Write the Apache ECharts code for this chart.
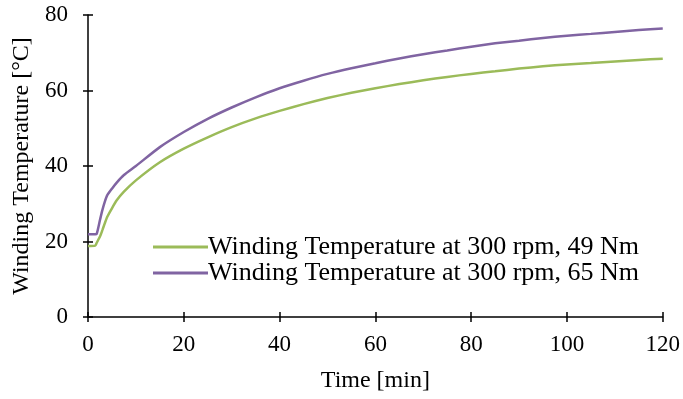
<!DOCTYPE html>
<html><head><meta charset="utf-8">
<script src="https://cdn.jsdelivr.net/npm/echarts@6/dist/echarts.min.js"></script>
<style>html,body{margin:0;padding:0;background:#fff}#c{width:683px;height:399px}</style>
</head><body><div id="c"></div>
<script>
const timeMin  = [0, 1.5, 1.8, 2.5, 3, 3.5, 4, 5, 6, 7.5, 10, 15, 20, 25, 30, 35, 40, 45, 50, 55, 60, 65, 70, 75, 80, 85, 90, 95, 100, 105, 110, 115, 120];
const temp49Nm = [18.8, 18.9, 19.6, 21.3, 23.0, 24.8, 26.5, 28.8, 30.9, 33.2, 36.2, 41.0, 44.6, 47.6, 50.3, 52.6, 54.6, 56.4, 58.0, 59.4, 60.6, 61.7, 62.7, 63.6, 64.4, 65.1, 65.8, 66.4, 66.9, 67.3, 67.7, 68.1, 68.4];
const temp65Nm = [21.9, 21.95, 22.0, 25.7, 28.3, 30.5, 32.2, 34.0, 35.6, 37.6, 40.0, 45.0, 49.0, 52.5, 55.5, 58.2, 60.6, 62.6, 64.4, 65.9, 67.2, 68.5, 69.6, 70.6, 71.6, 72.5, 73.2, 73.9, 74.5, 75.0, 75.5, 76.0, 76.4];
const seriesNames = ['Winding Temperature at 300 rpm, 49 Nm', 'Winding Temperature at 300 rpm, 65 Nm'];
const xTicks = [0, 20, 40, 60, 80, 100, 120];
const yTicks = [0, 20, 40, 60, 80];

const font = 'Liberation Serif, Times New Roman, serif';
const chart = echarts.init(document.getElementById('c'));
const toPairs = (xs, ys) => xs.map((x, i) => [x, ys[i]]);
const baseX = {type: 'value', min: xTicks[0], max: xTicks[xTicks.length-1], interval: 20, splitLine: {show: false}};
const baseY = {type: 'value', min: yTicks[0], max: yTicks[yTicks.length-1], interval: 20, splitLine: {show: false}};
chart.setOption({
  animation: false,
  textStyle: {fontFamily: font},
  grid: {left: 88, right: 18, top: 15, bottom: 82},
  legend: {
    orient: 'vertical', left: 148, top: 229, itemWidth: 55, itemHeight: 3, itemGap: 0,
    icon: 'rect',
    textStyle: {fontFamily: font, fontSize: 26, lineHeight: 25, color: '#000', padding: [0,0,0,-5]},
    data: seriesNames
  },
  xAxis: [
    Object.assign({}, baseX, {
      name: 'Time [min]', nameLocation: 'middle', nameGap: 52,
      nameTextStyle: {fontFamily: font, fontSize: 24, color: '#000'},
      axisLine: {lineStyle: {color: '#000', width: 1.5}},
      axisTick: {inside: false, length: 5, lineStyle: {color: '#000', width: 1.5}},
      axisLabel: {margin: 16, fontFamily: font, fontSize: 23, color: '#000'}
    }),
    Object.assign({}, baseX, {
      position: 'bottom', axisLine: {show: false},
      axisTick: {inside: true, length: 5, lineStyle: {color: '#000', width: 1.5}},
      axisLabel: {show: false}
    })
  ],
  yAxis: [
    Object.assign({}, baseY, {
      name: 'Winding Temperature [°C]', nameLocation: 'middle', nameGap: 50,
      nameTextStyle: {fontFamily: font, fontSize: 24, color: '#000'},
      axisLine: {show: true, lineStyle: {color: '#000', width: 1.5}},
      axisTick: {show: true, inside: false, length: 5, lineStyle: {color: '#000', width: 1.5}},
      axisLabel: {margin: 20, fontFamily: font, fontSize: 23, color: '#000'}
    }),
    Object.assign({}, baseY, {
      position: 'left', axisLine: {show: false},
      axisTick: {show: true, inside: true, length: 5, lineStyle: {color: '#000', width: 1.5}},
      axisLabel: {show: false}
    })
  ],
  series: [
    {name: seriesNames[0], type: 'line', smooth: 0.2, showSymbol: false, symbol: 'none',
     data: toPairs(timeMin, temp49Nm), lineStyle: {color: '#9BBB59', width: 2.5}, itemStyle: {color: '#9BBB59'}},
    {name: seriesNames[1], type: 'line', smooth: 0.2, showSymbol: false, symbol: 'none',
     data: toPairs(timeMin, temp65Nm), lineStyle: {color: '#8064A2', width: 2.5}, itemStyle: {color: '#8064A2'}}
  ]
});
</script></body></html>
